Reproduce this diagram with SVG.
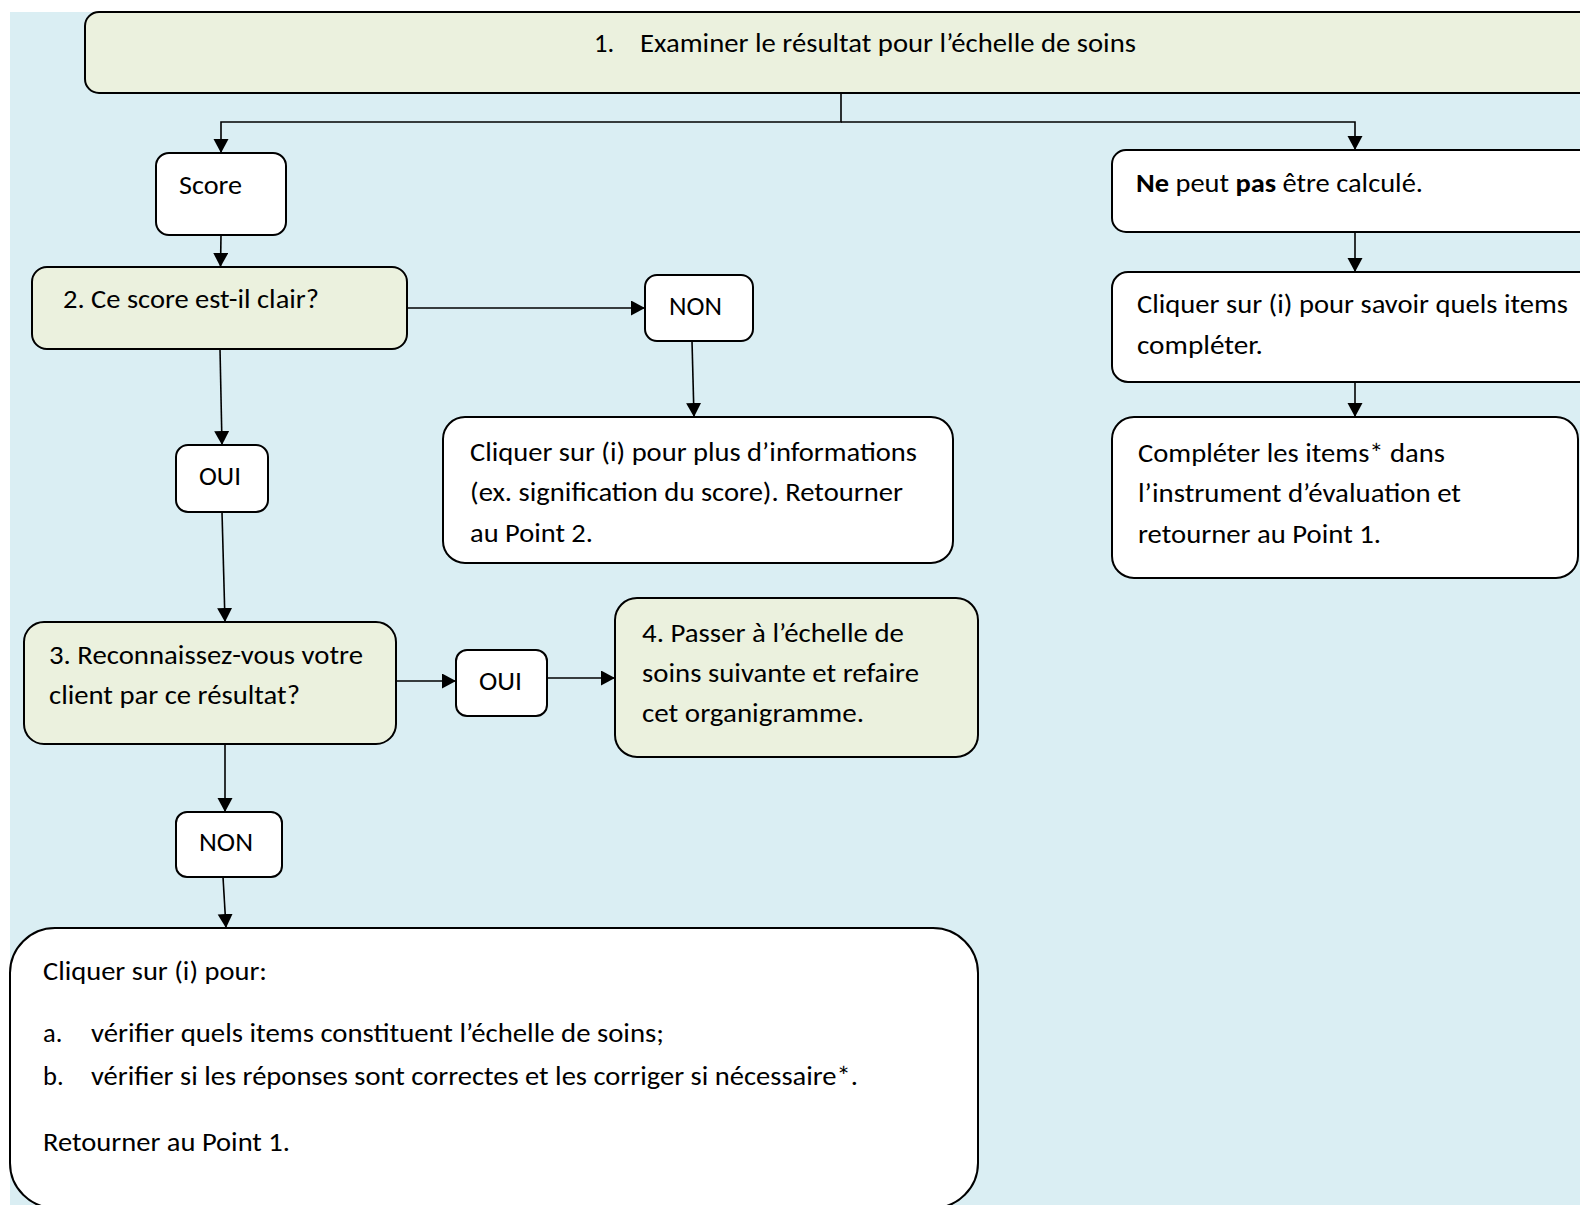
<svg xmlns="http://www.w3.org/2000/svg" width="1580" height="1205" viewBox="0 0 1580 1205">
<style>
.bg{fill:#DAEEF3}
.g{fill:#EBF1DE;stroke:#000;stroke-width:2}
.w{fill:#fff;stroke:#000;stroke-width:2}
.c{fill:none;stroke:#000;stroke-width:1.6}
text{font-family:Carlito,Lato,"Open Sans",sans-serif;font-size:26.5px;fill:#000}
.b{font-weight:bold}
</style>
<defs>
<marker id="ah" markerUnits="userSpaceOnUse" markerWidth="16" markerHeight="16" refX="14" refY="7.5" orient="auto">
<path d="M0,0 L14,7.5 L0,15 z" fill="#000"/>
</marker>
</defs>
<rect x="0" y="0" width="1580" height="1205" fill="#fff"/>
<rect class="bg" x="10" y="12" width="1570" height="1193"/>
<g id="connectors">
<path class="c" d="M841,93 V122 H221 V153" marker-end="url(#ah)"/>
<path class="c" d="M841,122 H1355 V150" marker-end="url(#ah)"/>
<path class="c" d="M221,235 L220.5,267" marker-end="url(#ah)"/>
<path class="c" d="M407,308 H645" marker-end="url(#ah)"/>
<path class="c" d="M692,341 L694,417" marker-end="url(#ah)"/>
<path class="c" d="M220,349 L222,445" marker-end="url(#ah)"/>
<path class="c" d="M222,512 L225,622" marker-end="url(#ah)"/>
<path class="c" d="M396,681 H456" marker-end="url(#ah)"/>
<path class="c" d="M548,678 H615" marker-end="url(#ah)"/>
<path class="c" d="M225,744 V812" marker-end="url(#ah)"/>
<path class="c" d="M223,877 L226,928" marker-end="url(#ah)"/>
<path class="c" d="M1355,232 V272" marker-end="url(#ah)"/>
<path class="c" d="M1355,382 V417" marker-end="url(#ah)"/>
</g>
<g id="n1">
<rect class="g" x="85" y="12" width="1520" height="81" rx="14"/>
<text x="594" y="52">1.</text>
<text x="640" y="52" textLength="496" lengthAdjust="spacingAndGlyphs">Examiner le résultat pour l’échelle de soins</text>
</g>
<g id="score">
<rect class="w" x="156" y="153" width="130" height="82" rx="13"/>
<text x="179" y="194" textLength="63" lengthAdjust="spacingAndGlyphs">Score</text>
</g>
<g id="n2">
<rect class="g" x="32" y="267" width="375" height="82" rx="15"/>
<text x="63" y="308" textLength="256" lengthAdjust="spacingAndGlyphs">2. Ce score est-il clair?</text>
</g>
<g id="non1">
<rect class="w" x="645" y="275" width="108" height="66" rx="12"/>
<text x="669" y="315" textLength="53" lengthAdjust="spacingAndGlyphs">NON</text>
</g>
<g id="info">
<rect class="w" x="443" y="417" width="510" height="146" rx="22"/>
<text x="470" y="461" textLength="447" lengthAdjust="spacingAndGlyphs">Cliquer sur (i) pour plus d’informations</text>
<text x="470" y="501" textLength="433" lengthAdjust="spacingAndGlyphs">(ex. signification du score). Retourner</text>
<text x="470" y="542" textLength="123" lengthAdjust="spacingAndGlyphs">au Point 2.</text>
</g>
<g id="oui1">
<rect class="w" x="176" y="445" width="92" height="67" rx="12"/>
<text x="199" y="485" textLength="42" lengthAdjust="spacingAndGlyphs">OUI</text>
</g>
<g id="n3">
<rect class="g" x="24" y="622" width="372" height="122" rx="20"/>
<text x="49" y="664" textLength="314" lengthAdjust="spacingAndGlyphs">3. Reconnaissez-vous votre</text>
<text x="49" y="704" textLength="251" lengthAdjust="spacingAndGlyphs">client par ce résultat?</text>
</g>
<g id="oui2">
<rect class="w" x="456" y="650" width="91" height="66" rx="11"/>
<text x="479" y="690" textLength="43" lengthAdjust="spacingAndGlyphs">OUI</text>
</g>
<g id="n4">
<rect class="g" x="615" y="598" width="363" height="159" rx="22"/>
<text x="642" y="642" textLength="262" lengthAdjust="spacingAndGlyphs">4. Passer à l’échelle de</text>
<text x="642" y="682" textLength="277" lengthAdjust="spacingAndGlyphs">soins suivante et refaire</text>
<text x="642" y="722" textLength="222" lengthAdjust="spacingAndGlyphs">cet organigramme.</text>
</g>
<g id="non2">
<rect class="w" x="176" y="812" width="106" height="65" rx="11"/>
<text x="199" y="851" textLength="54" lengthAdjust="spacingAndGlyphs">NON</text>
</g>
<g id="final">
<rect class="w" x="10" y="928" width="968" height="280" rx="45"/>
<text x="43" y="980" textLength="224" lengthAdjust="spacingAndGlyphs">Cliquer sur (i) pour:</text>
<text x="43" y="1042">a.</text>
<text x="91" y="1042" textLength="573" lengthAdjust="spacingAndGlyphs">vérifier quels items constituent l’échelle de soins;</text>
<text x="43" y="1085">b.</text>
<text x="91" y="1085" textLength="767" lengthAdjust="spacingAndGlyphs">vérifier si les réponses sont correctes et les corriger si nécessaire*.</text>
<text x="43" y="1151" textLength="247" lengthAdjust="spacingAndGlyphs">Retourner au Point 1.</text>
</g>
<g id="r1">
<rect class="w" x="1112" y="150" width="500" height="82" rx="14"/>
<text x="1136" y="192" textLength="287" lengthAdjust="spacingAndGlyphs"><tspan class="b">Ne</tspan> peut <tspan class="b">pas</tspan> être calculé.</text>
</g>
<g id="r2">
<rect class="w" x="1112" y="272" width="500" height="110" rx="16"/>
<text x="1137" y="313" textLength="431" lengthAdjust="spacingAndGlyphs">Cliquer sur (i) pour savoir quels items</text>
<text x="1137" y="354" textLength="126" lengthAdjust="spacingAndGlyphs">compléter.</text>
</g>
<g id="r3">
<rect class="w" x="1112" y="417" width="466" height="161" rx="22"/>
<text x="1138" y="462" textLength="307" lengthAdjust="spacingAndGlyphs">Compléter les items* dans</text>
<text x="1138" y="502" textLength="323" lengthAdjust="spacingAndGlyphs">l’instrument d’évaluation et</text>
<text x="1138" y="543" textLength="243" lengthAdjust="spacingAndGlyphs">retourner au Point 1.</text>
</g>
</svg>
